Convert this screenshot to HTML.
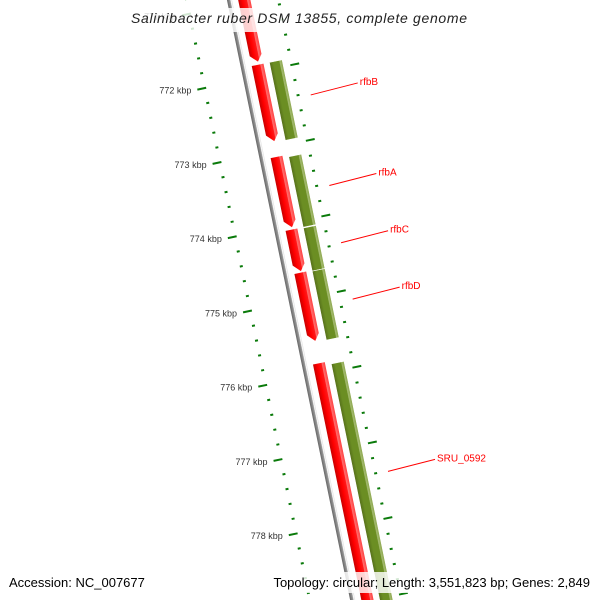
<!DOCTYPE html>
<html><head><meta charset="utf-8"><style>
html,body{margin:0;padding:0;background:#fff;overflow:hidden;}
svg{display:block;font-family:"Liberation Sans","DejaVu Sans",sans-serif;}
</style></head><body>
<svg id="chart" width="600" height="600" viewBox="0 0 600 600" xmlns="http://www.w3.org/2000/svg">
<defs>
<clipPath id="frame"><rect x="0" y="0" width="600" height="600"/></clipPath>
<linearGradient id="gRed" x1="0" x2="1" y1="0" y2="0">
<stop offset="0" stop-color="#c80000"/><stop offset="0.35" stop-color="#ff0000"/><stop offset="0.7" stop-color="#ff1a1a"/><stop offset="0.75" stop-color="#ff7070"/><stop offset="1" stop-color="#ff4040"/></linearGradient>
<linearGradient id="gGreen" x1="0" x2="1" y1="0" y2="0">
<stop offset="0" stop-color="#556f1a"/><stop offset="0.3" stop-color="#6b8e23"/><stop offset="0.75" stop-color="#6b8e23"/><stop offset="0.8" stop-color="#a4bb70"/><stop offset="1" stop-color="#8aa54a"/></linearGradient>
<linearGradient id="gGrey" x1="0" x2="1" y1="0" y2="0">
<stop offset="0" stop-color="#666"/><stop offset="0.6" stop-color="#999"/><stop offset="0.75" stop-color="#fff"/><stop offset="1" stop-color="#ddd"/></linearGradient>
</defs>
<g clip-path="url(#frame)">
<g id="track" transform="translate(230,0) rotate(-11.6)"></g>
<g id="labels"></g>
</g>
<rect x="0" y="8" width="600" height="24" fill="#fff" fill-opacity="0.82"/>
<text x="299" y="23" text-anchor="middle" font-size="14" font-style="italic" fill="#222" textLength="336" lengthAdjust="spacing">Salinibacter ruber DSM 13855, complete genome</text>
<rect x="0" y="572" width="600" height="21" fill="#fff" fill-opacity="0.82"/>
<text x="9" y="587" font-size="13" fill="#000">Accession: NC_007677</text>
<text x="590" y="587" font-size="13" fill="#000" text-anchor="end">Topology: circular; Length: 3,551,823 bp; Genes: 2,849</text>
</svg>
<script>
var tickKbp = [771, 772, 773, 774, 775, 776, 777, 778, 779];
var tickLabels = ["771 kbp","772 kbp","773 kbp","774 kbp","775 kbp","776 kbp","777 kbp","778 kbp","779 kbp"];
var geneStarts = [770.66, 771.84, 773.08, 774.06, 774.64, 775.86, 771.84, 773.11, 774.07, 774.65, 775.90];
var geneEnds   = [771.80, 772.87, 774.03, 774.62, 775.56, 779.50, 772.89, 774.06, 774.65, 775.58, 779.50];
var geneStrand = ["rev","rev","rev","rev","rev","rev","fwd","fwd","fwd","fwd","fwd"];
var geneLabels = ["","","","","","","rfbB","rfbA","rfbC","rfbD","SRU_0592"];
var labelKbp   = [0,0,0,0,0,0,772.37,773.59,774.36,775.12,777.44];

var NS="http://www.w3.org/2000/svg";
var A=11.6*Math.PI/180, CA=Math.cos(A), SA=Math.sin(A);
function u(k){return 81.2+(k-772)*75.8;}
function uR(k){return 76+(k-772)*77.2;}
function P(v,uu){return [230+v*CA+uu*SA, -v*SA+uu*CA];}
function mk(tag,attrs,parent){var e=document.createElementNS(NS,tag);for(var a in attrs)e.setAttribute(a,attrs[a]);parent.appendChild(e);return e;}
var track=document.getElementById('track'), labels=document.getElementById('labels');

var bb=mk('rect',{x:-3,y:-50,width:5,height:750,fill:'url(#gGrey)'},track);



for(var k=770;k<=780.001;k+=0.2){
  var kk=Math.round(k*10)/10, major=Math.abs(kk-Math.round(kk))<0.01;
  var ul=u(kk);
  var t=mk('rect',{x:major?-50:-44,y:ul-1,width:major?9:3,height:2,fill:'#0a7a0a'},track);
  
  
  var ur=uR(kk);
  var t2=mk('rect',{x:46,y:ur-1,width:major?9:3,height:2,fill:'#0a7a0a'},track);
  
  
}
for(var i=0;i<tickKbp.length;i++){
  var p=P(-50,u(tickKbp[i]));
  var tx=mk('text',{x:p[0]-6,y:p[1]+4,'font-size':9,fill:'#333','text-anchor':'end'},labels);
  tx.textContent=tickLabels[i];
  
  
}

for(var g=0;g<geneStarts.length;g++){
  var u0=u(geneStarts[g]), u1=u(geneEnds[g]);
  var el;
  if(geneStrand[g]==='rev'){
    var v0=8,v1=20,vm=15;
    var pts=[[v0,u0],[v1,u0],[v1,u1-7],[vm,u1],[v0,u1-7]];
    el=mk('polygon',{points:pts.map(function(q){return q.join(',');}).join(' '),fill:'url(#gRed)'},track);
    
  } else {
    el=mk('rect',{x:26,y:u0,width:13,height:u1-u0,fill:'url(#gGreen)',stroke:'#fff','stroke-width':0.6},track);
    
  }
  
  if(geneLabels[g]){
    var s=P(60,u(labelKbp[g]));
    var e={x:s[0]+47,y:s[1]-12};
    var ln=mk('line',{x1:s[0],y1:s[1],x2:e.x,y2:e.y,stroke:'#ff0000','stroke-width':1},labels);
    
    
    var lt=mk('text',{x:e.x+2,y:e.y+2,'font-size':10,fill:'#ff0000'},labels);
    lt.textContent=geneLabels[g];
    
    
  }
}
</script>
</body></html>
